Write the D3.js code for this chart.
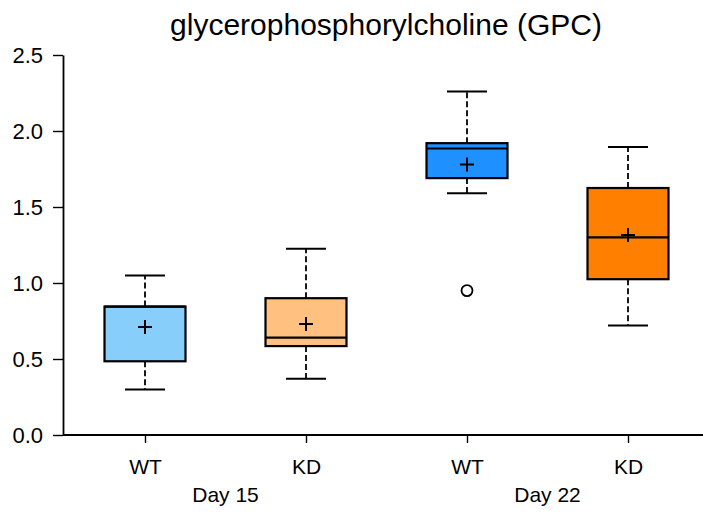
<!DOCTYPE html>
<html><head><meta charset="utf-8">
<script src="https://cdn.jsdelivr.net/npm/d3@7"></script>
<style>body{margin:0;background:#fff}svg{display:block}text{font-family:"Liberation Sans",Arial,sans-serif;fill:#000}</style>
</head><body><svg id="c" width="703" height="514"></svg>
<script>
const groups = ["WT","KD","WT","KD"];
const days = ["Day 15","Day 22"];
const whiskerLow = [0.30,0.37,1.59,0.72];
const q1 = [0.485,0.585,1.69,1.025];
const median = [0.845,0.64,1.885,1.30];
const q3 = [0.845,0.90,1.92,1.625];
const whiskerHigh = [1.05,1.225,2.26,1.895];
const means = [0.71,0.73,1.78,1.315];
const outliers = [[],[],[0.95],[]];
const colors = ["#87CEFA","#FFC080","#1E90FF","#FF8000"];
const yTicks = [0,0.5,1.0,1.5,2.0,2.5];

const svg = d3.select("#c");
const mLeft = 63, mBottom = 435, mTop = 55, mRight = 703;
const y = d3.scaleLinear().domain([0,2.5]).range([mBottom, mTop]);
const x = d3.scalePoint().domain(d3.range(4)).range([145,628]);
const bw = 81, cw = 40;

svg.append("text").attr("x",386).attr("y",35).attr("text-anchor","middle")
  .attr("font-size",30).text("glycerophosphorylcholine (GPC)");

const ya = svg.append("g").attr("transform",`translate(${mLeft},0)`)
  .call(d3.axisLeft(y).tickValues(yTicks).tickFormat(d3.format(".1f")).tickSize(10).tickSizeOuter(0));
ya.select(".domain").attr("stroke","#000").attr("stroke-width",1.8);
ya.selectAll(".tick line").attr("stroke","#000").attr("stroke-width",1.4);
ya.selectAll(".tick text").attr("font-size",22).attr("x",-20).attr("font-family","Liberation Sans, Arial, sans-serif");

const xa = svg.append("g").attr("transform",`translate(0,${mBottom})`)
  .call(d3.axisBottom(x).tickFormat(i=>groups[i]).tickSize(8).tickSizeOuter(0));
xa.select(".domain").attr("d",`M${mLeft},0H${mRight}`).attr("stroke","#000").attr("stroke-width",1.8);
xa.selectAll(".tick line").attr("stroke","#000").attr("stroke-width",1.4);
xa.selectAll(".tick text").attr("font-size",21).attr("y",39).attr("dy",null).attr("font-family","Liberation Sans, Arial, sans-serif");

days.forEach((d,k)=>{
  svg.append("text").attr("x",(x(2*k)+x(2*k+1))/2).attr("y",502).attr("text-anchor","middle")
    .attr("font-size",21).text(d);
});

const g = svg.append("g");
d3.range(4).forEach(i=>{
  const cx = x(i);
  const gg = g.append("g");
  gg.append("line").attr("x1",cx).attr("x2",cx).attr("y1",y(q3[i])).attr("y2",y(whiskerHigh[i]))
    .attr("stroke","#000").attr("stroke-width",1.8).attr("stroke-dasharray","6,3");
  gg.append("line").attr("x1",cx).attr("x2",cx).attr("y1",y(q1[i])).attr("y2",y(whiskerLow[i]))
    .attr("stroke","#000").attr("stroke-width",1.8).attr("stroke-dasharray","6,3");
  [whiskerHigh[i],whiskerLow[i]].forEach(v=>{
    gg.append("line").attr("x1",cx-cw/2).attr("x2",cx+cw/2).attr("y1",y(v)).attr("y2",y(v))
      .attr("stroke","#000").attr("stroke-width",2);
  });
  gg.append("rect").attr("x",cx-bw/2).attr("width",bw).attr("y",y(q3[i])).attr("height",y(q1[i])-y(q3[i]))
    .attr("fill",colors[i]).attr("stroke","#000").attr("stroke-width",2.2);
  gg.append("line").attr("x1",cx-bw/2).attr("x2",cx+bw/2).attr("y1",y(median[i])).attr("y2",y(median[i]))
    .attr("stroke","#000").attr("stroke-width",2.2);
  const my = y(means[i]);
  gg.append("path").attr("d",`M${cx-7},${my}H${cx+7}M${cx},${my-7}V${my+7}`)
    .attr("stroke","#000").attr("stroke-width",2).attr("fill","none");
  outliers[i].forEach(v=>{
    gg.append("circle").attr("cx",cx).attr("cy",y(v)).attr("r",5.5)
      .attr("fill","none").attr("stroke","#000").attr("stroke-width",1.8);
  });
});
</script></body></html>
